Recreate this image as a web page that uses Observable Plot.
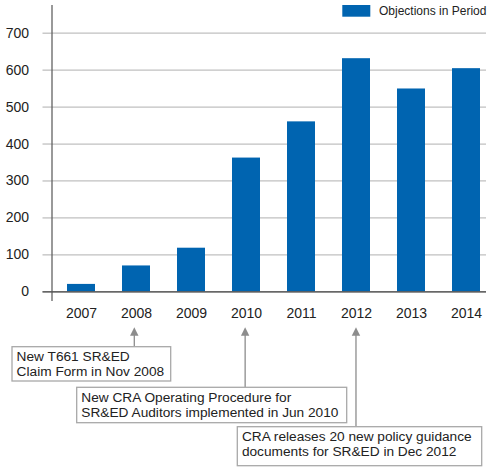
<!DOCTYPE html>
<html><head><meta charset="utf-8">
<script src="https://cdn.jsdelivr.net/npm/d3@7"></script>
<script src="https://cdn.jsdelivr.net/npm/@observablehq/plot@0.6"></script>
<style>body{margin:0;background:#fff} svg{display:block}</style>
</head><body><div id="chart"></div>
<script>
const years = ["2007","2008","2009","2010","2011","2012","2013","2014"];
const objections = [20,70,118,362,460,631,549,604];
const yTicks = [0,100,200,300,400,500,600,700];
const seriesName = "Objections in Period";
const annotationYears = ["2008","2010","2012"];
const annotationLines = [
  ["New T661 SR&ED","Claim Form in Nov 2008"],
  ["New CRA Operating Procedure for","SR&ED Auditors implemented in Jun 2010"],
  ["CRA releases 20 new policy guidance","documents for SR&ED in Dec 2012"]
];

// layout only (pixels)
const boxLayout = [
  {left:12, top:346.7, width:158.7, height:34.3},
  {left:76.7, top:387.3, width:270, height:35.4},
  {left:237.3, top:426.7, width:244.4, height:39}
];
const FONT = "'Liberation Sans', Arial, Helvetica, sans-serif";
const BAR = "#0064b0";

const data = years.map((year, i) => ({year, value: objections[i]}));
const xOpts = {type:"band", domain: years, range:[51.5, 494.2], paddingInner:0.5, paddingOuter:0.244};
const xScale = Plot.scale({x: xOpts});

function legendMark() {
  const g = d3.create("svg:g").attr("text-anchor", "start");
  g.append("rect").attr("x", 342.3).attr("y", 5).attr("width", 28).attr("height", 11.7).attr("fill", BAR);
  g.append("text").attr("x", 379).attr("y", 15.3).attr("font-size", 12).attr("font-family", FONT)
    .attr("fill", "#222").text(seriesName);
  return g.node();
}

function annotationsMark() {
  const g = d3.create("svg:g").attr("font-family", FONT).attr("font-size", 13.7).attr("text-anchor", "start");
  annotationYears.forEach((yr, i) => {
    const cx = xScale.apply(yr) + xScale.bandwidth / 2;
    const b = boxLayout[i];
    g.append("line").attr("x1", cx).attr("x2", cx).attr("y1", 334).attr("y2", b.top)
      .attr("stroke", "#8c8c8c").attr("stroke-width", 1.3);
    g.append("path").attr("d", `M${cx},327.3L${cx + 4.2},335.7L${cx - 4.2},335.7Z`).attr("fill", "#8c8c8c");
    g.append("rect").attr("x", b.left).attr("y", b.top).attr("width", b.width).attr("height", b.height)
      .attr("fill", "#fff").attr("stroke", "#a8a8a8").attr("stroke-width", 1.3);
    annotationLines[i].forEach((line, j) => {
      g.append("text").attr("x", b.left + 4.6).attr("y", b.top + 14.6 + j * 14.8)
        .attr("fill", "#222").text(line);
    });
  });
  return g.node();
}

const chart = Plot.plot({
  width: 491,
  height: 470,
  marginLeft: 51.5,
  marginRight: 5,
  marginTop: 5,
  marginBottom: 170,
  style: {fontFamily: FONT, fontSize: "14px", background: "#fff", color: "#222"},
  x: {...xOpts, label: null},
  y: {domain: [0, 700], range: [291.3, 32.7], label: null},
  marks: [
    Plot.gridY(yTicks, {stroke: "#c0c0c0", strokeOpacity: 1, strokeWidth: 1.3}),
    Plot.axisY({ticks: yTicks, tickSize: 9, tickPadding: 14, stroke: "#c0c0c0", strokeOpacity: 1, strokeWidth: 1.3, fill: "#222", fontSize: 14, label: null}),
    Plot.barY(data, {x: "year", y: "value", fill: BAR}),
    Plot.ruleY([0], {stroke: "#444", strokeWidth: 1.3, insetLeft: -9}),
    Plot.frame({anchor: "left", stroke: "#555", strokeWidth: 1.2}),
    Plot.axisX({tickSize: 0, tickPadding: 8, fontSize: 14, fill: "#222", label: null}),
    legendMark,
    annotationsMark
  ]
});
document.getElementById("chart").appendChild(chart);
</script>
</body></html>
